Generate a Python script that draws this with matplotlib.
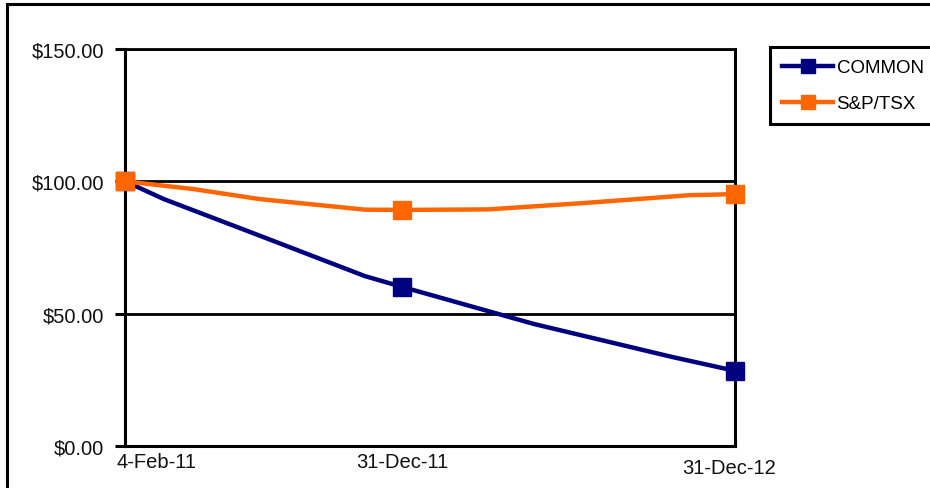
import matplotlib
matplotlib.use("Agg")
import matplotlib.pyplot as plt
from matplotlib.patches import Rectangle
from matplotlib.lines import Line2D

plt.rcParams['font.family'] = ['Liberation Sans', 'DejaVu Sans']

# x positions in months since 4-Feb-11 (markers at the three labelled dates)
tick_pos = [0, 10, 22]
tick_labels = ["4-Feb-11", "31-Dec-11", "31-Dec-12"]

common_x = [0, 1.4, 4.9, 8.65, 10, 14.75, 19.75, 22]
common_y = [100, 93.3, 79.3, 64.2, 60.1, 46.1, 33.6, 28.4]
common_mark = [0, 4, 7]

tsx_x = [0, 2.45, 4.85, 8.65, 10, 13.1, 16.55, 20.4, 21.0, 22]
tsx_y = [100, 97.1, 93.3, 89.3, 89.2, 89.4, 91.8, 94.8, 94.9, 95.2]
tsx_mark = [0, 4, 9]

yticks = [0, 50, 100, 150]
ytick_labels = ["$0.00", "$50.00", "$100.00", "$150.00"]

W, H = 930, 489
fig = plt.figure(figsize=(W / 100, H / 100), dpi=100)
fig.patch.set_facecolor("white")

# figure border
fig.patches.append(Rectangle((7 / W, -0.05), 1.0, 1 - 5 / H + 0.05, transform=fig.transFigure,
                             fill=False, edgecolor="black", linewidth=2.2, zorder=0))

ax = fig.add_axes([125 / W, (H - 447) / H, 610 / W, 397 / H])
ax.set_xlim(0, 22)
ax.set_ylim(0, 150)

for y in yticks[1:]:
    ax.axhline(y, color="black", linewidth=2.0, zorder=1)

navy = "#000080"
orange = "#FF6600"
ax.plot(common_x, common_y, color=navy, linewidth=3.2, marker="s", markersize=12.5,
        markevery=common_mark, zorder=3, clip_on=False, solid_joinstyle="round")
ax.plot(tsx_x, tsx_y, color=orange, linewidth=3.2, marker="s", markersize=12.5,
        markevery=tsx_mark, zorder=4, clip_on=False, solid_joinstyle="round")

for side in ["left", "right", "bottom", "top"]:
    ax.spines[side].set_color("black")
    ax.spines[side].set_linewidth(2.2)
ax.spines["top"].set_linewidth(2.0)

ax.set_yticks(yticks)
ax.set_yticklabels(ytick_labels, fontsize=14.5, color="#111111")
ax.tick_params(axis="y", direction="out", length=7, width=2.2, pad=8, color="black")
ax.set_xticks([])

offsets = [(-5.8, -11.0, "left"), (0.0, -11.0, "center"), (-4.3, -15.5, "center")]
for pos, lab, (dx, dy, ha) in zip(tick_pos, tick_labels, offsets):
    ax.annotate(lab, xy=(pos, 0), xycoords=("data", "axes fraction"),
                xytext=(dx, dy), textcoords="offset points", ha=ha, va="center",
                fontsize=14.5, color="#111111", annotation_clip=False)

handles = [Line2D([], [], color=navy, linewidth=3.2, marker="s", markersize=10),
           Line2D([], [], color=orange, linewidth=3.2, marker="s", markersize=10)]
leg = fig.legend(handles, ["COMMON", "S&P/TSX"], loc="upper left",
                 bbox_to_anchor=(770 / W, 1 - 48 / H), bbox_transform=fig.transFigure,
                 borderaxespad=0, fontsize=13.5, handlelength=2.7, handletextpad=0.2,
                 labelspacing=1.0, borderpad=0.65, fancybox=False, framealpha=1,
                 edgecolor="black")
leg.get_frame().set_linewidth(2.2)

fig.savefig("out.png", dpi=100, facecolor="white")
